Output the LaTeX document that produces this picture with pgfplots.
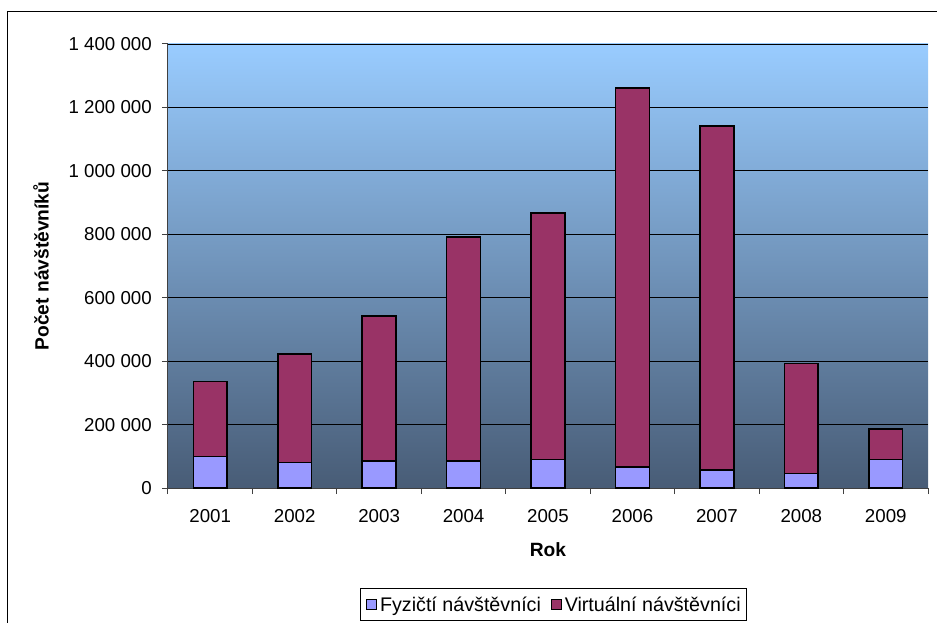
\documentclass[border=0pt]{standalone}
\usepackage{fontspec}
\setmainfont{Liberation Sans}
\usepackage{pgfplots}
\pgfplotsset{compat=1.18}

\definecolor{fyz}{RGB}{153,153,255}
\definecolor{virt}{RGB}{153,51,102}
\definecolor{bgtop}{RGB}{153,204,255}
\definecolor{bgmid}{RGB}{112,150,190}
\definecolor{bgbot}{RGB}{72,92,118}
\definecolor{axisgray}{RGB}{64,64,64}

\newcommand\lbl{\fontsize{18.7bp}{22bp}\selectfont}
\newcommand\ttl{\fontsize{19.2bp}{22bp}\selectfont}
\newcommand\lgd{\fontsize{19.7bp}{23bp}\selectfont}

\pgfplotsset{
  sqlegend/.style={
    legend image code/.code={
      \draw[##1,draw=black,line width=0.8bp] (0bp,-5bp) rectangle (10bp,5bp);
    }
  }
}

\begin{document}
\begin{tikzpicture}
% page size and outer chart frame
\path[use as bounding box] (-168bp,-135bp) rectangle (769bp,488bp);
\draw[black,line width=1bp] (-160bp,-150bp) rectangle (785bp,476bp);

\begin{axis}[
  at={(0,0)}, anchor=south west,
  scale only axis,
  width=760bp, height=444bp,
  xmin=0.5, xmax=9.5,
  ymin=0, ymax=1400000,
  ybar stacked,
  bar width=33.8bp,
  axis x line*=bottom,
  axis y line*=left,
  axis line style={axisgray, line width=1bp},
  axis background/.style={shade, top color=bgtop, middle color=bgmid, bottom color=bgbot},
  xtick={0.5,1.5,...,9.5},
  xticklabels={},
  extra x ticks={1,2,3,4,5,6,7,8,9},
  extra x tick labels={2001,2002,2003,2004,2005,2006,2007,2008,2009},
  extra x tick style={major tick length=0pt, grid=none,
    xticklabel style={anchor=center, yshift=-28bp}},
  ytick={0,200000,400000,600000,800000,1000000,1200000,1400000},
  yticklabels={0,200\ 000,400\ 000,600\ 000,800\ 000,1\ 000\ 000,1\ 200\ 000,1\ 400\ 000},
  scaled y ticks=false,
  ymajorgrids,
  major grid style={black, line width=0.8bp},
  tick align=outside,
  major tick length=6bp,
  tick style={axisgray, line width=1bp},
  xticklabel style={font=\lbl},
  yticklabel style={font=\lbl, anchor=east, inner sep=0pt, xshift=-10bp},
  xlabel={\textbf{Rok}},
  xlabel style={font=\ttl, at={(axis description cs:0.5,-0.1396)}, anchor=center},
  ylabel={\textbf{Počet návštěvníků}},
  ylabel style={font=\ttl, at={(axis description cs:-0.1671,0.5)}, anchor=center},
  legend columns=2,
  legend style={
    at={(axis description cs:0.5072,-0.2624)}, anchor=center,
    draw=black, line width=0.8bp, fill=white, font=\lgd,
    inner xsep=6bp, inner ysep=5bp,
    nodes={inner xsep=0bp, inner ysep=3bp},
    /tikz/every odd column/.append style={column sep=3bp},
    /tikz/every even column/.append style={column sep=10bp},
  },
  every axis plot/.append style={draw=black, line width=1.5bp},
]
\addplot[fill=fyz, sqlegend] coordinates {
  (1,100000) (2,80000) (3,85000) (4,85000) (5,90000)
  (6,66000) (7,56000) (8,46000) (9,90000)
};
\addplot[fill=virt, sqlegend] coordinates {
  (1,236000) (2,342000) (3,457000) (4,707000) (5,777000)
  (6,1195000) (7,1085000) (8,346000) (9,96000)
};
\legend{Fyzičtí návštěvníci, Virtuální návštěvníci}
\end{axis}
\end{tikzpicture}
\end{document}
